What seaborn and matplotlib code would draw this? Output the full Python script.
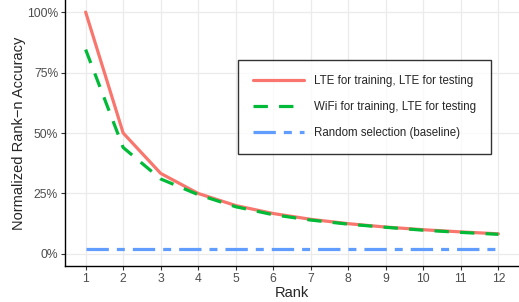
import numpy as np
import pandas as pd
import matplotlib
matplotlib.use("Agg")
import matplotlib.pyplot as plt
import seaborn as sns
from matplotlib.ticker import PercentFormatter

# data
rank = list(range(1, 13))
lte_lte = [1.0, 0.5, 0.333, 0.25, 0.2, 0.167, 0.143, 0.125, 0.111, 0.1, 0.091, 0.083]
wifi_lte = [0.845, 0.44, 0.31, 0.245, 0.195, 0.162, 0.14, 0.123, 0.11, 0.098, 0.089, 0.081]
random_sel = [0.02] * 12

names = ["LTE for training, LTE for testing",
         "WiFi for training, LTE for testing",
         "Random selection (baseline)"]
colors = ["#F8766D", "#00BA38", "#619CFF"]

df = pd.DataFrame({
    "Rank": rank * 3,
    "acc": lte_lte + wifi_lte + random_sel,
    "series": [names[0]] * 12 + [names[1]] * 12 + [names[2]] * 12,
})

sns.set_style("white")
plt.rcParams["font.family"] = ["Liberation Sans", "DejaVu Sans"]

fig = plt.figure(figsize=(5.19, 3.02), dpi=100)
ax = fig.add_axes([65 / 519, 36 / 302, 454 / 519, 266 / 302])

sns.lineplot(data=df, x="Rank", y="acc", hue="series", style="series",
             palette=dict(zip(names, colors)),
             dashes={names[0]: "", names[1]: (4.5, 3.5), names[2]: (7, 2.5, 2.5, 2.5)},
             linewidth=2.3, ax=ax)

ax.set_xlim(0.45, 12.55)
ax.set_ylim(-0.05, 1.05)
ax.set_xticks(rank)
ax.set_yticks([0, 0.25, 0.5, 0.75, 1.0])
ax.yaxis.set_major_formatter(PercentFormatter(1.0, decimals=0))
ax.grid(True, color="#EBEBEB", linewidth=0.9)
ax.set_axisbelow(True)
for s in ["top", "right"]:
    ax.spines[s].set_visible(False)
for s in ["left", "bottom"]:
    ax.spines[s].set_color("black")
    ax.spines[s].set_linewidth(1.0)
ax.tick_params(axis="both", length=3, width=0.8, color="#333333",
               labelsize=8.7, labelcolor="#4D4D4D", direction="out", pad=2)
ax.tick_params(bottom=True, left=True)
ax.set_xlabel("Rank", fontsize=10.5, labelpad=1)
ax.set_ylabel("Normalized Rank\u2212n Accuracy", fontsize=10.5, labelpad=0.5)

leg = ax.legend(title=None, loc="upper left", bbox_to_anchor=(173 / 454, 1 - 60 / 266),
                fontsize=8.3, frameon=True, fancybox=False, edgecolor="black",
                handlelength=4.4, handletextpad=0.85, labelspacing=1.2,
                borderpad=1.3, borderaxespad=0)
leg.get_frame().set_linewidth(1.0)

fig.savefig("out.png", dpi=100)
